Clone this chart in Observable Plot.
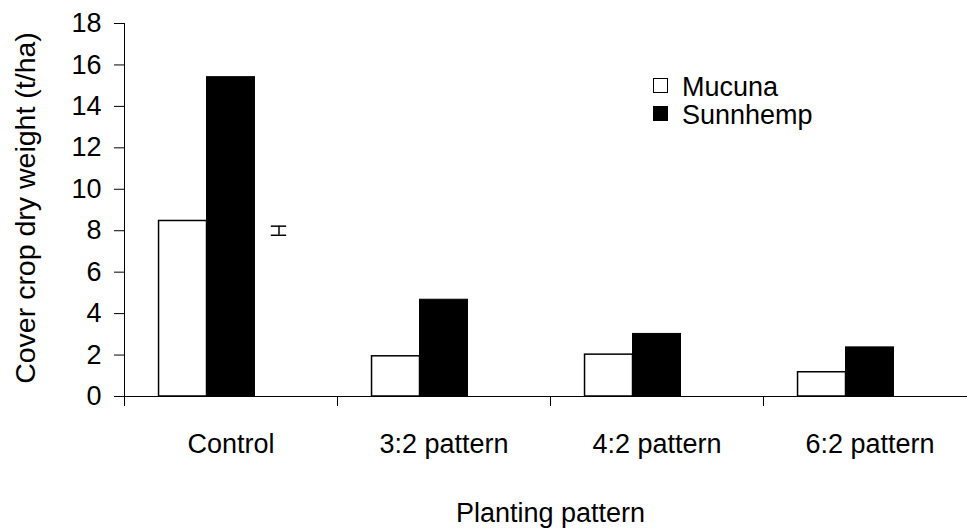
<!DOCTYPE html>
<html><head><meta charset="utf-8">
<script src="https://cdn.jsdelivr.net/npm/d3@7"></script>
<script src="https://cdn.jsdelivr.net/npm/@observablehq/plot@0.6"></script>
<style>
body{margin:0;background:#fff;}
#chart{position:relative;width:967px;height:531px;overflow:hidden;font-family:"Liberation Sans",Arial,sans-serif;}
.leg{position:absolute;font-size:27px;line-height:28px;color:#000;white-space:nowrap;}
.sw{position:absolute;width:15px;height:15px;box-sizing:border-box;border:1.5px solid #000;}
</style></head><body><div id="chart"></div>
<script>
const categories = ["Control", "3:2 pattern", "4:2 pattern", "6:2 pattern"];
const series = ["Mucuna", "Sunnhemp"];
const mucuna = [8.47, 1.94, 2.02, 1.17];
const sunnhemp = [15.41, 4.67, 3.02, 2.37];
const lsdValue = [8.0];
const lsdHalf = [0.22];
const yTicks = [0, 2, 4, 6, 8, 10, 12, 14, 16, 18];
const xTitle = "Planting pattern";
const yTitle = "Cover crop dry weight (t/ha)";
const seriesFill = ["white", "black"];

const slots = [...series, "LSD"];
const inner = d3.scaleBand().domain(slots).range([0, 1]).paddingInner(0).paddingOuter(0.72);
const bw = inner.bandwidth();

const mucunaRows = categories.map((c, i) => ({cat: c, i, s: "Mucuna", v: mucuna[i]}));
const sunnRows = categories.map((c, i) => ({cat: c, i, s: "Sunnhemp", v: sunnhemp[i]}));
const err = lsdValue.map((v, k) => ({i: k, v, lo: v - lsdHalf[k], hi: v + lsdHalf[k]}));
const xc = d => d.i + inner("LSD") + bw / 2;
const cap = bw * 0.16;

const FONT = "Liberation Sans, Arial, sans-serif";

const plot = Plot.plot({
  width: 967, height: 531,
  marginLeft: 124, marginRight: -9, marginTop: 23, marginBottom: 135,
  style: {fontFamily: FONT, fontSize: "27px", color: "black", background: "white", overflow: "hidden"},
  x: {type: "linear", domain: [0, categories.length]},
  y: {domain: [0, 18]},
  marks: [
    Plot.rectY(mucunaRows, {x1: d => d.i + inner(d.s), x2: d => d.i + inner(d.s) + bw, y1: 0, y2: "v", fill: seriesFill[0], stroke: "black", strokeWidth: 1.5}),
    Plot.rectY(sunnRows, {x1: d => d.i + inner(d.s), x2: d => d.i + inner(d.s) + bw, y1: 0, y2: "v", fill: seriesFill[1], stroke: "black", strokeWidth: 1}),
    Plot.ruleX(err, {x: xc, y1: "lo", y2: "hi", stroke: "black", strokeWidth: 1.5}),
    Plot.ruleY(err, {x1: d => xc(d) - cap, x2: d => xc(d) + cap, y: "lo", stroke: "black", strokeWidth: 1.5}),
    Plot.ruleY(err, {x1: d => xc(d) - cap, x2: d => xc(d) + cap, y: "hi", stroke: "black", strokeWidth: 1.5}),
    Plot.ruleY([0], {stroke: "black"}),
    Plot.ruleX([0], {stroke: "black"}),
    Plot.axisY({ticks: yTicks, tickSize: 10, tickPadding: 13, label: null, fontSize: 27}),
    Plot.axisX({ticks: d3.range(categories.length + 1), tickSize: 10, tickFormat: () => "", label: null}),
    Plot.axisX({ticks: categories.map((c, i) => i + 0.5), tickSize: 0, tickPadding: 37, tickFormat: t => categories[Math.floor(t)], label: null, fontSize: 27}),
    Plot.text([xTitle], {text: d => d, frameAnchor: "bottom", dy: 125.5, lineAnchor: "bottom", fontSize: 27}),
    Plot.text([yTitle], {text: d => d, frameAnchor: "left", dx: -90, dy: -2, rotate: -90, textAnchor: "middle", lineAnchor: "bottom", fontSize: 28.5})
  ]
});
const chart = document.getElementById("chart");
chart.appendChild(plot);

// legend overlay
const legTop = 72.7, legStep = 28.3;
series.forEach((s, k) => {
  const sw = document.createElement("div");
  sw.className = "sw";
  sw.style.left = "653px";
  sw.style.top = (legTop + 5.3 + k * legStep) + "px";
  sw.style.background = seriesFill[k];
  chart.appendChild(sw);
  const t = document.createElement("div");
  t.className = "leg";
  t.style.left = "682px";
  t.style.top = (legTop + k * legStep) + "px";
  t.textContent = s;
  chart.appendChild(t);
});
</script>
</body></html>
